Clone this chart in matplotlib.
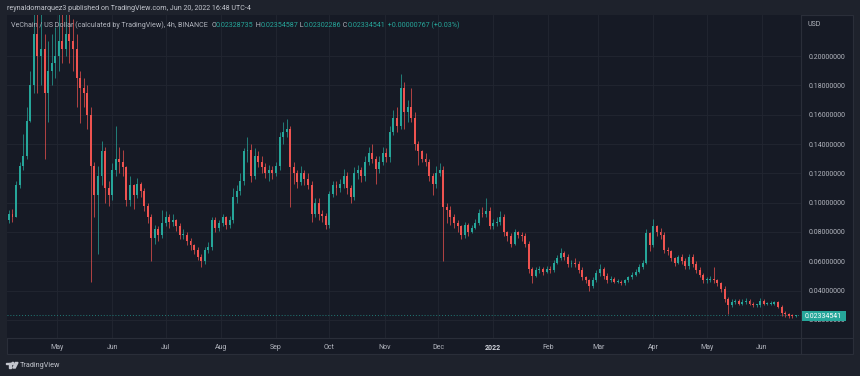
import datetime as dt

import numpy as np
import matplotlib
matplotlib.use("Agg")
import matplotlib.pyplot as plt
import matplotlib.dates as mdates
import matplotlib.transforms as mtransforms
from matplotlib.patches import Rectangle, Polygon, Circle
from matplotlib.lines import Line2D

first_day = dt.datetime(2021, 4, 3)
period_days = 2
first_open = 0.088

closes = [
    0.092, 0.090, 0.112, 0.125, 0.132, 0.156, 0.180, 0.215, 0.200, 0.205,
    0.175, 0.190, 0.195, 0.200, 0.210, 0.205, 0.215, 0.210, 0.205, 0.185,
    0.178, 0.175, 0.160, 0.125, 0.105, 0.118, 0.135, 0.110, 0.105, 0.122,
    0.130, 0.128, 0.124, 0.102, 0.112, 0.105, 0.113, 0.108, 0.098, 0.090,
    0.076, 0.082, 0.078, 0.086, 0.090, 0.087, 0.088, 0.084, 0.078, 0.078,
    0.074, 0.071, 0.068, 0.063, 0.060, 0.068, 0.070, 0.088, 0.083, 0.086,
    0.090, 0.085, 0.088, 0.104, 0.108, 0.115, 0.135, 0.136, 0.118, 0.132,
    0.128, 0.124, 0.120, 0.122, 0.120, 0.125, 0.145, 0.148, 0.150, 0.124,
    0.120, 0.114, 0.120, 0.116, 0.112, 0.092, 0.100, 0.092, 0.091, 0.085,
    0.106, 0.112, 0.110, 0.113, 0.118, 0.110, 0.104, 0.120, 0.122, 0.118,
    0.128, 0.134, 0.130, 0.123, 0.128, 0.134, 0.131, 0.148, 0.158, 0.152,
    0.178, 0.162, 0.165, 0.158, 0.140, 0.135, 0.130, 0.128, 0.118, 0.113,
    0.120, 0.122, 0.097, 0.095, 0.090, 0.086, 0.084, 0.078, 0.085, 0.080,
    0.083, 0.086, 0.093, 0.092, 0.094, 0.084, 0.086, 0.087, 0.090, 0.080,
    0.077, 0.072, 0.080, 0.078, 0.077, 0.072, 0.055, 0.050, 0.054, 0.055,
    0.053, 0.055, 0.054, 0.059, 0.062, 0.066, 0.063, 0.058, 0.059, 0.058,
    0.054, 0.049, 0.047, 0.043, 0.047, 0.052, 0.055, 0.050, 0.047, 0.048,
    0.046, 0.046, 0.045, 0.047, 0.049, 0.051, 0.053, 0.056, 0.059, 0.079,
    0.071, 0.084, 0.080, 0.078, 0.068, 0.067, 0.062, 0.059, 0.063, 0.060,
    0.057, 0.063, 0.058, 0.054, 0.051, 0.047, 0.047, 0.048, 0.047, 0.045,
    0.041, 0.034, 0.030, 0.032, 0.033, 0.031, 0.032, 0.033, 0.031, 0.030,
    0.030, 0.033, 0.031, 0.031, 0.031, 0.032, 0.029, 0.025, 0.024, 0.023,
    0.0225, 0.02334541,
]
highs = [
    0.095, 0.096, 0.115, 0.128, 0.147, 0.165, 0.190, 0.240, 0.235, 0.230,
    0.215, 0.210, 0.215, 0.220, 0.235, 0.235, 0.240, 0.235, 0.225, 0.215,
    0.190, 0.185, 0.180, 0.165, 0.128, 0.125, 0.142, 0.138, 0.115, 0.127,
    0.152, 0.138, 0.136, 0.125, 0.118, 0.113, 0.117, 0.114, 0.110, 0.100,
    0.092, 0.085, 0.084, 0.095, 0.094, 0.092, 0.092, 0.089, 0.086, 0.082,
    0.080, 0.076, 0.072, 0.070, 0.065, 0.070, 0.073, 0.090, 0.090, 0.088,
    0.092, 0.091, 0.091, 0.110, 0.112, 0.120, 0.137, 0.145, 0.140, 0.137,
    0.135, 0.132, 0.127, 0.126, 0.125, 0.128, 0.148, 0.155, 0.157, 0.152,
    0.128, 0.122, 0.125, 0.122, 0.120, 0.115, 0.103, 0.103, 0.095, 0.093,
    0.108, 0.115, 0.115, 0.116, 0.123, 0.121, 0.112, 0.124, 0.126, 0.124,
    0.132, 0.138, 0.140, 0.132, 0.132, 0.138, 0.137, 0.152, 0.163, 0.165,
    0.188, 0.182, 0.170, 0.178, 0.162, 0.142, 0.136, 0.134, 0.130, 0.120,
    0.125, 0.127, 0.125, 0.100, 0.098, 0.092, 0.088, 0.085, 0.087, 0.086,
    0.085, 0.089, 0.096, 0.097, 0.103, 0.097, 0.089, 0.090, 0.094, 0.092,
    0.081, 0.079, 0.082, 0.081, 0.080, 0.079, 0.074, 0.056, 0.056, 0.057,
    0.056, 0.057, 0.057, 0.061, 0.064, 0.069, 0.067, 0.065, 0.061, 0.062,
    0.060, 0.056, 0.050, 0.048, 0.049, 0.054, 0.058, 0.056, 0.052, 0.050,
    0.049, 0.048, 0.047, 0.048, 0.050, 0.053, 0.055, 0.058, 0.061, 0.082,
    0.080, 0.089, 0.085, 0.083, 0.080, 0.070, 0.068, 0.063, 0.064, 0.065,
    0.062, 0.065, 0.065, 0.060, 0.056, 0.052, 0.049, 0.050, 0.056, 0.048,
    0.046, 0.043, 0.036, 0.034, 0.034, 0.034, 0.034, 0.035, 0.034, 0.032,
    0.031, 0.035, 0.034, 0.032, 0.033, 0.033, 0.033, 0.030, 0.026, 0.025,
    0.024, 0.0236,
]
lows = [
    0.086, 0.087, 0.090, 0.110, 0.122, 0.130, 0.155, 0.175, 0.175, 0.180,
    0.130, 0.155, 0.180, 0.185, 0.190, 0.195, 0.200, 0.195, 0.190, 0.165,
    0.154, 0.165, 0.150, 0.046, 0.090, 0.065, 0.112, 0.100, 0.098, 0.102,
    0.118, 0.120, 0.118, 0.098, 0.098, 0.096, 0.103, 0.104, 0.094, 0.086,
    0.060, 0.072, 0.074, 0.076, 0.084, 0.083, 0.084, 0.081, 0.075, 0.075,
    0.071, 0.068, 0.065, 0.061, 0.056, 0.058, 0.066, 0.068, 0.080, 0.081,
    0.084, 0.082, 0.083, 0.086, 0.100, 0.105, 0.112, 0.128, 0.114, 0.116,
    0.124, 0.120, 0.117, 0.115, 0.116, 0.118, 0.122, 0.140, 0.145, 0.097,
    0.113, 0.110, 0.112, 0.112, 0.109, 0.087, 0.090, 0.088, 0.087, 0.082,
    0.083, 0.104, 0.105, 0.107, 0.110, 0.106, 0.100, 0.102, 0.116, 0.114,
    0.115, 0.126, 0.127, 0.113, 0.120, 0.126, 0.128, 0.128, 0.146, 0.148,
    0.150, 0.150, 0.155, 0.155, 0.136, 0.126, 0.128, 0.125, 0.115, 0.105,
    0.110, 0.118, 0.060, 0.086, 0.085, 0.083, 0.080, 0.075, 0.076, 0.077,
    0.079, 0.082, 0.085, 0.090, 0.090, 0.082, 0.082, 0.084, 0.085, 0.077,
    0.074, 0.070, 0.071, 0.076, 0.074, 0.070, 0.052, 0.045, 0.049, 0.052,
    0.051, 0.052, 0.052, 0.053, 0.058, 0.061, 0.061, 0.056, 0.056, 0.056,
    0.052, 0.047, 0.045, 0.040, 0.042, 0.046, 0.050, 0.048, 0.045, 0.046,
    0.045, 0.045, 0.044, 0.044, 0.046, 0.048, 0.050, 0.052, 0.055, 0.058,
    0.067, 0.070, 0.077, 0.075, 0.066, 0.064, 0.060, 0.057, 0.058, 0.058,
    0.055, 0.055, 0.056, 0.052, 0.049, 0.045, 0.045, 0.046, 0.045, 0.043,
    0.039, 0.032, 0.024, 0.029, 0.031, 0.030, 0.030, 0.031, 0.030, 0.029,
    0.029, 0.029, 0.030, 0.030, 0.030, 0.030, 0.028, 0.023, 0.022, 0.0215,
    0.021, 0.0222,
]

price_ticks = [0.02, 0.04, 0.06, 0.08, 0.10, 0.12, 0.14, 0.16, 0.18, 0.20]
month_ticks = [dt.datetime(2021, m, 1) for m in range(5, 13)] + \
              [dt.datetime(2022, m, 1) for m in range(1, 7)]
month_labels = ["May", "Jun", "Jul", "Aug", "Sep", "Oct", "Nov", "Dec",
                "2022", "Feb", "Mar", "Apr", "May", "Jun"]

publish_line = "reynaldomarquez3 published on TradingView.com, Jun 20, 2022 16:48 UTC-4"
symbol_line = "VeChain / US Dollar (calculated by TradingView), 4h, BINANCE  "
ohlc_last = [("O", "0.02328735"), (" H", "0.02354587"), (" L", "0.02302286"),
             (" C", "0.02334541")]
change_text = " +0.00000767 (+0.03%)"
last_price = 0.02334541

OUTER = "#1e222c"
PANEL = "#161a25"
GRID = "#222631"
BORDER = "#2a2e39"
UP = "#26a69a"
DOWN = "#ef5350"
TXT = "#b2b5be"

plt.rcParams["font.family"] = ["Roboto", "DejaVu Sans"]

W, H = 860, 376
fig = plt.figure(figsize=(W / 100, H / 100), dpi=100)
fig.patch.set_facecolor(OUTER)
# top-down pixel coordinates of the figure
pix = mtransforms.Affine2D().scale(1 / W, -1 / H).translate(0, 1) + fig.transFigure

fig.add_artist(Rectangle((7, 15), 846, 339, transform=pix, facecolor=PANEL,
                         edgecolor=BORDER, lw=0.8, zorder=-10))

ax = fig.add_axes([7 / W, 1 - 338 / H, 794 / W, 323 / H])
ax.set_facecolor(PANEL)
for s in ax.spines.values():
    s.set_visible(False)

o = np.r_[first_open, closes[:-1]]
c = np.array(closes)
hi = np.maximum(np.array(highs), np.maximum(o, c))
lo = np.minimum(np.array(lows), np.minimum(o, c))
x0 = mdates.date2num(first_day + dt.timedelta(days=period_days / 2))
x = x0 + period_days * np.arange(len(c))
col = np.where(c >= o, UP, DOWN)

ax.vlines(x, lo, hi, colors=col, lw=0.5, zorder=3)
ax.bar(x, np.maximum(np.abs(c - o), 0.0006), bottom=np.minimum(o, c),
       width=1.1, color=col, linewidth=0, zorder=4)

ax.axhline(last_price, color=UP, lw=0.7, ls=(0, (1, 2)), alpha=0.7, zorder=2)

left = mdates.date2num(dt.datetime(2021, 4, 2, 22))
ax.set_xlim(left, left + 446.0)
ax.set_ylim(0.0077, 0.2280)

ax.set_yticks(price_ticks)
ax.set_yticklabels([f"{v:.8f}" for v in price_ticks])
ax.yaxis.tick_right()
ax.tick_params(axis="y", length=0, pad=5.5, labelsize=5, labelcolor=TXT)
ax.set_xticks(mdates.date2num(month_ticks))
ax.set_xticklabels(month_labels)
ax.tick_params(axis="x", length=0, pad=4.5, labelsize=5, labelcolor=TXT)
for lab in ax.get_xticklabels():
    if lab.get_text() == "2022":
        lab.set_color("#d1d4dc")
        lab.set_fontweight("bold")
ax.grid(True, color=GRID, lw=0.6)
ax.set_axisbelow(True)

# separators of the price and time scales
fig.add_artist(Line2D([801, 801], [15, 354], transform=pix, color=BORDER, lw=0.8))
fig.add_artist(Line2D([7, 853], [338, 338], transform=pix, color=BORDER, lw=0.8))

fig.text(808, 24, "USD", transform=pix, fontsize=5, color=TXT, va="center")

# last price tag (covers the 0.02 label, as on TradingView)
fig.add_artist(Rectangle((802, 311), 44, 10, transform=pix, facecolor=UP,
                         edgecolor="none", zorder=5))
fig.text(805, 316.2, f"{last_price:.8f}", transform=pix, fontsize=5,
         color="white", va="center", zorder=6)

# header
fig.text(7, 9, publish_line, transform=pix, fontsize=5.1, color="#c3c6ce",
         va="center")
t = fig.text(11, 25, symbol_line, transform=pix, fontsize=5.1, color=TXT,
             va="center", zorder=6)
for letter, val in ohlc_last:
    t = ax.annotate(letter, xy=(1, 0), xycoords=t, va="bottom", fontsize=5.1,
                    color=TXT, annotation_clip=False, zorder=6)
    t = ax.annotate(val, xy=(1, 0), xycoords=t, va="bottom", fontsize=5.1,
                    color=UP, annotation_clip=False, zorder=6)
ax.annotate(change_text, xy=(1, 0), xycoords=t, va="bottom", fontsize=5.1,
            color=UP, annotation_clip=False, zorder=6)

# TradingView logo
logo_col = "#c3c6ce"
for p in [Rectangle((6, 362.5), 5.5, 1.8, transform=pix, color=logo_col),
          Rectangle((9.2, 362.5), 2.2, 5.5, transform=pix, color=logo_col),
          Circle((12.9, 363.4), 1.0, transform=pix, color=logo_col),
          Polygon([(15.5, 362.5), (18, 362.5), (15.2, 368), (12.8, 368)],
                  closed=True, transform=pix, color=logo_col)]:
    fig.add_artist(p)
fig.text(20, 365.5, "TradingView", transform=pix, fontsize=5.2, color=logo_col,
         va="center")

fig.savefig("out.png", dpi=100, facecolor=OUTER)
